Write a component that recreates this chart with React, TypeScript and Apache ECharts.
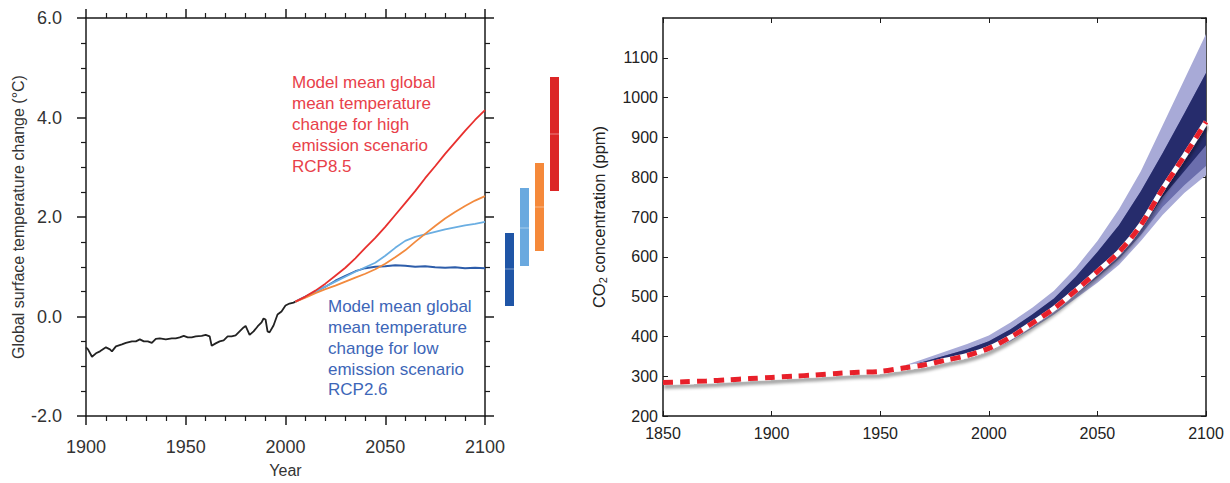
import React, { useEffect, useRef } from "react";
import * as echarts from "echarts";

// ---------- Left panel: temperature change ----------
const histYears = [1900, 1901, 1903, 1905, 1907, 1910, 1912, 1913, 1915, 1918, 1920, 1923, 1925, 1927, 1929, 1931, 1933, 1935, 1937, 1940, 1943, 1945, 1947, 1949, 1951, 1953, 1955, 1958, 1960, 1962, 1963, 1965, 1967, 1969, 1971, 1973, 1975, 1977, 1979, 1980, 1982, 1984, 1986, 1988, 1989, 1990, 1991, 1992, 1994, 1996, 1998, 2000, 2002, 2004, 2005];
const histTemp = [-0.62, -0.66, -0.81, -0.74, -0.7, -0.62, -0.66, -0.7, -0.6, -0.56, -0.53, -0.5, -0.5, -0.46, -0.5, -0.5, -0.53, -0.45, -0.44, -0.46, -0.44, -0.44, -0.42, -0.39, -0.42, -0.42, -0.4, -0.39, -0.37, -0.4, -0.59, -0.54, -0.5, -0.48, -0.4, -0.4, -0.38, -0.3, -0.22, -0.19, -0.37, -0.3, -0.2, -0.12, -0.04, -0.06, -0.3, -0.32, -0.18, 0.04, 0.1, 0.22, 0.26, 0.28, 0.3];

const scenYears = [2005, 2010, 2015, 2020, 2025, 2030, 2035, 2040, 2045, 2050, 2055, 2060, 2065, 2070, 2075, 2080, 2085, 2090, 2095, 2100];
const rcp26 = [0.3, 0.4, 0.5, 0.6, 0.72, 0.82, 0.91, 0.97, 1.0, 1.01, 1.03, 1.02, 1.0, 1.01, 0.99, 0.98, 0.99, 0.97, 0.98, 0.97];
const rcp45 = [0.3, 0.4, 0.5, 0.6, 0.7, 0.8, 0.9, 0.99, 1.08, 1.22, 1.38, 1.52, 1.6, 1.65, 1.7, 1.75, 1.79, 1.83, 1.86, 1.9];
const rcp60 = [0.3, 0.38, 0.47, 0.55, 0.62, 0.7, 0.78, 0.86, 0.95, 1.06, 1.19, 1.33, 1.5, 1.66, 1.82, 1.97, 2.1, 2.22, 2.33, 2.42];
const rcp85 = [0.3, 0.4, 0.52, 0.66, 0.82, 0.98, 1.17, 1.38, 1.58, 1.8, 2.04, 2.28, 2.52, 2.78, 3.02, 3.27, 3.5, 3.73, 3.95, 4.15];

const rangeNames = ["RCP2.6", "RCP4.5", "RCP6.0", "RCP8.5"];
const rangeLow = [0.24, 1.04, 1.34, 2.54];
const rangeHigh = [1.7, 2.6, 3.1, 4.82];
const rangeMid = [0.98, 1.8, 2.22, 3.68];
const rangeColors = ["#1f55a6", "#6aa9df", "#f5893a", "#dc2626"];

// ---------- Right panel: CO2 concentration ----------
const co2Years = [1850, 1860, 1870, 1880, 1890, 1900, 1910, 1920, 1930, 1940, 1950, 1960, 1970, 1980, 1990, 2000, 2010, 2020, 2030, 2040, 2050, 2060, 2070, 2080, 2090, 2100];
const co2 = [284, 286, 288, 291, 294, 297, 300, 303, 307, 310, 312, 320, 328, 340, 352, 370, 398, 433, 470, 515, 563, 612, 680, 770, 853, 939];

const bandYears = [1950, 1960, 1970, 1980, 1990, 2000, 2010, 2020, 2030, 2040, 2050, 2060, 2070, 2080, 2090, 2100];
const outerHigh = [312, 325, 343, 362, 381, 402, 435, 472, 515, 572, 640, 720, 815, 930, 1045, 1160];
const outerLow = [310, 316, 324, 334, 346, 362, 388, 420, 455, 495, 535, 580, 640, 705, 760, 805];
const midLow = [311, 318, 326, 337, 349, 366, 393, 427, 462, 505, 548, 595, 655, 725, 780, 828];
const darkLow = [311, 319, 327, 339, 351, 368, 396, 431, 467, 511, 556, 604, 668, 750, 815, 880];
const darkHigh = [312, 322, 336, 352, 368, 388, 418, 455, 495, 550, 612, 680, 765, 860, 960, 1062];

const FONT = "Liberation Sans, Arial, Helvetica, sans-serif";

function zip(xs: number[], ys: number[]) {
  return xs.map((x, i) => [x, ys[i]]);
}

function bandSeries(low: number[], high: number[], color: string) {
  return {
    type: "custom",
    xAxisIndex: 3,
    yAxisIndex: 3,
    data: [[bandYears[0], low[0]]],
    encode: { x: 0, y: 1 },
    silent: true,
    renderItem: (params: any, api: any) => {
      if (params.dataIndex !== 0) return null;
      const pts: number[][] = [];
      for (let i = 0; i < bandYears.length; i++) pts.push(api.coord([bandYears[i], high[i]]));
      for (let i = bandYears.length - 1; i >= 0; i--) pts.push(api.coord([bandYears[i], low[i]]));
      return { type: "polygon", shape: { points: pts }, style: { fill: color } };
    },
  };
}

export default function App() {
  const ref = useRef<HTMLDivElement>(null);
  useEffect(() => {
    if (!ref.current) return;
    const chart = echarts.init(ref.current, undefined, { renderer: "svg" });
    const black = "#1a1a1a";
    const axLine = { show: true, onZero: false, lineStyle: { color: black, width: 1.5 } };
    const leftTick = { show: true, length: 9, lineStyle: { color: black, width: 1.5 } };
    const leftMinor = { show: true, length: 5, lineStyle: { color: black, width: 1.2 } };
    const rightTick = { show: true, inside: true, length: 5, lineStyle: { color: black, width: 1 } };
    const plain = (v: number) => String(v);

    const option: any = {
      animation: false,
      textStyle: { fontFamily: FONT },
      grid: [
        { left: 86, top: 18, width: 399, height: 400 },
        { left: 502, top: 18, width: 60, height: 400 },
        { left: 663, top: 18, width: 543, height: 398 },
      ],
      xAxis: [
        {
          gridIndex: 0, type: "value", min: 1900, max: 2100, interval: 50, position: "bottom",
          axisLine: axLine, axisTick: leftTick, minorTick: { ...leftMinor, splitNumber: 5 },
          splitLine: { show: false }, minorSplitLine: { show: false },
          axisLabel: { fontSize: 18, color: "#333", margin: 22, fontFamily: FONT, formatter: plain },
          name: "Year", nameLocation: "middle", nameGap: 46,
          nameTextStyle: { fontSize: 16, color: "#333", fontFamily: FONT },
        },
        {
          gridIndex: 0, type: "value", min: 1900, max: 2100, interval: 50, position: "top",
          axisLine: axLine, axisTick: leftTick, minorTick: { ...leftMinor, splitNumber: 5 },
          splitLine: { show: false }, axisLabel: { show: false },
        },
        { gridIndex: 1, type: "category", data: rangeNames, show: false },
        {
          gridIndex: 2, type: "value", min: 1850, max: 2100, interval: 50, position: "bottom",
          axisLine: axLine, axisTick: rightTick, splitLine: { show: false },
          axisLabel: { fontSize: 16, color: "#222", margin: 9, fontFamily: FONT, formatter: plain },
        },
        {
          gridIndex: 2, type: "value", min: 1850, max: 2100, interval: 50, position: "top",
          axisLine: axLine, axisTick: rightTick, splitLine: { show: false }, axisLabel: { show: false },
        },
      ],
      yAxis: [
        {
          gridIndex: 0, type: "value", min: -2, max: 6, interval: 2, position: "left",
          axisLine: axLine, axisTick: leftTick, minorTick: { ...leftMinor, splitNumber: 4 },
          splitLine: { show: false },
          axisLabel: { fontSize: 18, color: "#333", margin: 24, fontFamily: FONT, formatter: (v: number) => v.toFixed(1) },
          name: "Global surface temperature change (°C)", nameLocation: "middle", nameGap: 60,
          nameTextStyle: { fontSize: 16, color: "#333", fontFamily: FONT },
        },
        {
          gridIndex: 0, type: "value", min: -2, max: 6, interval: 2, position: "right",
          axisLine: axLine, axisTick: leftTick, minorTick: { ...leftMinor, splitNumber: 4 },
          splitLine: { show: false }, axisLabel: { show: false },
        },
        { gridIndex: 1, type: "value", min: -2, max: 6, show: false },
        {
          gridIndex: 2, type: "value", min: 200, max: 1200, interval: 100, position: "left",
          axisLine: axLine, axisTick: rightTick, splitLine: { show: false },
          axisLabel: { fontSize: 16, color: "#222", margin: 5, fontFamily: FONT, showMaxLabel: false, formatter: plain },
          name: "{a|CO}{s|2}{a| concentration (ppm)}", nameLocation: "middle", nameGap: 55,
          nameTextStyle: {
            rich: {
              a: { fontSize: 16.5, color: "#222", fontFamily: FONT, lineHeight: 19 },
              s: { fontSize: 11, color: "#222", fontFamily: FONT, verticalAlign: "bottom", padding: [8, 0, 0, 0] },
            },
          },
        },
        {
          gridIndex: 2, type: "value", min: 200, max: 1200, interval: 100, position: "right",
          axisLine: axLine, axisTick: rightTick, splitLine: { show: false }, axisLabel: { show: false },
        },
      ],
      graphic: [
        {
          type: "text", left: 292, top: 72.6,
          style: {
            text: "Model mean global\nmean temperature\nchange for high\nemission scenario\nRCP8.5",
            fill: "#e8414a", font: `17px ${FONT}`, lineHeight: 20.8,
          },
        },
        {
          type: "text", left: 328, top: 296.3,
          style: {
            text: "Model mean global\nmean temperature\nchange for low\nemission scenario\nRCP2.6",
            fill: "#3d66b8", font: `17px ${FONT}`, lineHeight: 20.8,
          },
        },
      ],
      series: [
        {
          type: "line", xAxisIndex: 0, yAxisIndex: 0, data: zip(histYears, histTemp),
          showSymbol: false, lineStyle: { color: "#222", width: 1.8 },
        },
        {
          type: "line", xAxisIndex: 0, yAxisIndex: 0, data: zip(scenYears, rcp26),
          showSymbol: false, lineStyle: { color: "#2d5daa", width: 1.8 },
        },
        {
          type: "line", xAxisIndex: 0, yAxisIndex: 0, data: zip(scenYears, rcp45),
          showSymbol: false, lineStyle: { color: "#6aaee2", width: 1.8 },
        },
        {
          type: "line", xAxisIndex: 0, yAxisIndex: 0, data: zip(scenYears, rcp60),
          showSymbol: false, lineStyle: { color: "#f28a3e", width: 1.8 },
        },
        {
          type: "line", xAxisIndex: 0, yAxisIndex: 0, data: zip(scenYears, rcp85),
          showSymbol: false, lineStyle: { color: "#e8302e", width: 1.8 },
        },
        {
          type: "bar", xAxisIndex: 2, yAxisIndex: 2, stack: "range", barWidth: 9,
          data: rangeLow, itemStyle: { color: "rgba(0,0,0,0)" }, silent: true,
        },
        {
          type: "bar", xAxisIndex: 2, yAxisIndex: 2, stack: "range", barWidth: 9,
          data: rangeHigh.map((h, i) => ({ value: h - rangeLow[i], itemStyle: { color: rangeColors[i] } })),
        },
        {
          type: "scatter", xAxisIndex: 2, yAxisIndex: 2, symbol: "rect", symbolSize: [9, 1.5],
          data: rangeNames.map((n, i) => [n, rangeMid[i]]),
          itemStyle: { color: "rgba(255,255,255,0.35)" }, z: 5,
        },
        bandSeries(outerLow, outerHigh, "#a8aad7"),
        bandSeries(midLow, darkHigh, "#6b6ead"),
        bandSeries(darkLow, darkHigh, "#262c6c"),
        {
          type: "line", xAxisIndex: 3, yAxisIndex: 3, data: zip(co2Years, co2), smooth: 0.3,
          showSymbol: false,
          lineStyle: {
            color: "#ffffff", width: 5, shadowColor: "rgba(0,0,0,0.35)",
            shadowBlur: 3, shadowOffsetY: 4, shadowOffsetX: 1,
          },
          z: 4,
        },
        {
          type: "line", xAxisIndex: 3, yAxisIndex: 3, data: zip(co2Years, co2), smooth: 0.3,
          showSymbol: false,
          lineStyle: { color: "#e8202a", width: 5, type: [10, 7] },
          z: 5,
        },
      ],
    };
    chart.setOption(option);
    return () => chart.dispose();
  }, []);
  return (
    <div
      ref={ref}
      style={{ position: "fixed", left: 0, top: 0, width: 1230, height: 483, background: "#fff" }}
    />
  );
}
